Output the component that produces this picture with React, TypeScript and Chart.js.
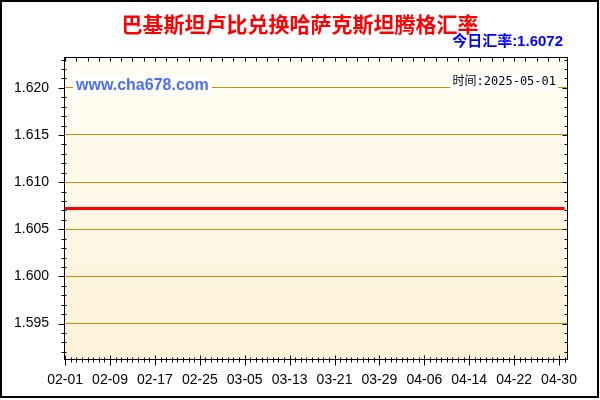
import { useEffect, useRef } from 'react'
import { Chart, registerables } from 'chart.js'

Chart.register(...registerables)

// daily quotes, 2025-02-01 .. 2025-05-01
const dates = [
  '02-01', '02-02', '02-03', '02-04', '02-05', '02-06', '02-07', '02-08', '02-09', '02-10',
  '02-11', '02-12', '02-13', '02-14', '02-15', '02-16', '02-17', '02-18', '02-19', '02-20',
  '02-21', '02-22', '02-23', '02-24', '02-25', '02-26', '02-27', '02-28', '03-01', '03-02',
  '03-03', '03-04', '03-05', '03-06', '03-07', '03-08', '03-09', '03-10', '03-11', '03-12',
  '03-13', '03-14', '03-15', '03-16', '03-17', '03-18', '03-19', '03-20', '03-21', '03-22',
  '03-23', '03-24', '03-25', '03-26', '03-27', '03-28', '03-29', '03-30', '03-31', '04-01',
  '04-02', '04-03', '04-04', '04-05', '04-06', '04-07', '04-08', '04-09', '04-10', '04-11',
  '04-12', '04-13', '04-14', '04-15', '04-16', '04-17', '04-18', '04-19', '04-20', '04-21',
  '04-22', '04-23', '04-24', '04-25', '04-26', '04-27', '04-28', '04-29', '04-30', '05-01',
]

const rates = [
  1.6072, 1.6072, 1.6072, 1.6072, 1.6072, 1.6072, 1.6072, 1.6072, 1.6072, 1.6072,
  1.6072, 1.6072, 1.6072, 1.6072, 1.6072, 1.6072, 1.6072, 1.6072, 1.6072, 1.6072,
  1.6072, 1.6072, 1.6072, 1.6072, 1.6072, 1.6072, 1.6072, 1.6072, 1.6072, 1.6072,
  1.6072, 1.6072, 1.6072, 1.6072, 1.6072, 1.6072, 1.6072, 1.6072, 1.6072, 1.6072,
  1.6072, 1.6072, 1.6072, 1.6072, 1.6072, 1.6072, 1.6072, 1.6072, 1.6072, 1.6072,
  1.6072, 1.6072, 1.6072, 1.6072, 1.6072, 1.6072, 1.6072, 1.6072, 1.6072, 1.6072,
  1.6072, 1.6072, 1.6072, 1.6072, 1.6072, 1.6072, 1.6072, 1.6072, 1.6072, 1.6072,
  1.6072, 1.6072, 1.6072, 1.6072, 1.6072, 1.6072, 1.6072, 1.6072, 1.6072, 1.6072,
  1.6072, 1.6072, 1.6072, 1.6072, 1.6072, 1.6072, 1.6072, 1.6072, 1.6072, 1.6072,
]

const yTickValues = [1.595, 1.6, 1.605, 1.61, 1.615, 1.62]
const xTickIndexes = [0, 8, 16, 24, 32, 40, 48, 56, 64, 72, 80, 88]

const yMin = 1.591128
const yMax = 1.623272

const titleText = '巴基斯坦卢比兑换哈萨克斯坦腾格汇率'
const todayText = '今日汇率:1.6072'
const siteText = 'www.cha678.com'
const timeText = '时间:2025-05-01'

const gridColor = '#C4920F'

function line(ctx: CanvasRenderingContext2D, x1: number, y1: number, x2: number, y2: number) {
  ctx.beginPath()
  ctx.moveTo(x1, y1)
  ctx.lineTo(x2, y2)
  ctx.stroke()
}

const framePlugin = {
  id: 'frame',
  beforeDraw(chart: Chart) {
    const { ctx, chartArea: a } = chart
    ctx.save()
    ctx.fillStyle = '#ffffff'
    ctx.fillRect(0, 0, chart.width, chart.height)
    const g = ctx.createLinearGradient(0, a.top, 0, a.bottom)
    g.addColorStop(0, '#FFFDF3')
    g.addColorStop(1, '#FDF1D9')
    ctx.fillStyle = g
    ctx.fillRect(a.left, a.top, a.right - a.left, a.bottom - a.top)
    ctx.restore()
  },
  afterDatasetsDraw(chart: Chart) {
    const { ctx } = chart
    ctx.save()
    ctx.textBaseline = 'middle'

    ctx.font = "bold 16px 'Liberation Sans', Arial, sans-serif"
    const sw = ctx.measureText(siteText).width
    ctx.fillStyle = '#ffffff'
    ctx.fillRect(73, 76, sw + 6, 19)
    ctx.fillStyle = '#4C6EF2'
    ctx.fillText(siteText, 76, 85.5)

    ctx.font = "12px 'DejaVu Sans Mono', 'Noto Sans CJK SC', monospace"
    const tw = ctx.measureText(timeText).width
    ctx.fillStyle = '#ffffff'
    ctx.fillRect(556 - tw - 2, 74, tw + 4, 16)
    ctx.fillStyle = '#000000'
    ctx.textAlign = 'right'
    ctx.fillText(timeText, 556, 82)
    ctx.restore()
  },
  afterDraw(chart: Chart) {
    const { ctx, chartArea: a } = chart
    const xs = chart.scales.x
    const ys = chart.scales.y
    const L = Math.round(a.left) + 0.5
    const R = Math.round(a.right) - 0.5
    const T = Math.round(a.top) + 0.5
    const B = Math.round(a.bottom) - 0.5

    ctx.save()
    ctx.strokeStyle = '#000000'
    ctx.lineWidth = 1

    // plot frame
    ctx.strokeRect(L, T, R - L, B - T)

    // x ticks: every day, taller at labels
    dates.forEach((_, i) => {
      const px = Math.round(xs.getPixelForValue(i)) + 0.5
      if (px > R) return
      if (i % 8 === 0) line(ctx, px, B - 4, px, B + 6)
      else line(ctx, px, B - 2, px, B + 3)
      if (i % 2 === 0) line(ctx, px, T, px, T + 4)
    })

    // y ticks: minor every 0.001, major at labels
    for (let k = 1592; k <= 1623; k++) {
      const v = k / 1000
      const py = Math.round(ys.getPixelForValue(v)) + 0.5
      if (k % 5 === 0) {
        line(ctx, L - 6, py, L, py)
        line(ctx, R - 5, py, R, py)
      } else {
        line(ctx, L - 3, py, L + 2, py)
        line(ctx, R - 3, py, R, py)
      }
    }

    // outer border
    ctx.lineWidth = 2
    ctx.strokeRect(1, 1, 597, 396)

    // titles
    ctx.textBaseline = 'middle'
    ctx.textAlign = 'center'
    ctx.fillStyle = '#FF0000'
    ctx.font = "bold 21px 'Noto Sans CJK SC', sans-serif"
    ctx.fillText(titleText, 300, 24)

    ctx.textAlign = 'right'
    ctx.fillStyle = '#0000FF'
    ctx.font = "bold 15px 'Liberation Sans', 'Noto Sans CJK SC', sans-serif"
    ctx.fillText(todayText, 563, 42)
    ctx.restore()
  },
}

function RateChart() {
  const canvasRef = useRef<HTMLCanvasElement | null>(null)

  useEffect(() => {
    if (!canvasRef.current) return undefined

    const chart = new Chart(canvasRef.current, {
      type: 'line',
      data: {
        datasets: [
          {
            label: 'rate',
            data: rates.map((v, i) => ({ x: i, y: v })),
            borderColor: '#FF0000',
            borderWidth: 3,
            pointRadius: 0,
            tension: 0,
            fill: false,
          },
        ],
      },
      options: {
        responsive: false,
        animation: false,
        layout: { padding: { top: 57, right: 32, left: 0, bottom: 0 } },
        plugins: {
          legend: { display: false },
          title: { display: false },
          tooltip: { enabled: false },
        },
        scales: {
          x: {
            type: 'linear',
            min: -0.2,
            max: 89.6,
            afterFit: (scale) => {
              scale.height = 40
            },
            afterBuildTicks: (scale) => {
              scale.ticks = xTickIndexes.map((v) => ({ value: v }))
            },
            grid: { display: false, drawTicks: false },
            border: { display: false },
            ticks: {
              autoSkip: false,
              maxRotation: 0,
              padding: 12,
              color: '#000000',
              font: { family: "'Liberation Sans', Arial, sans-serif", size: 14 },
              callback: (value) => dates[Number(value)] ?? '',
            },
          },
          y: {
            type: 'linear',
            min: yMin,
            max: yMax,
            afterFit: (scale) => {
              scale.width = 64
            },
            afterBuildTicks: (scale) => {
              scale.ticks = yTickValues.map((v) => ({ value: v }))
            },
            grid: { color: gridColor, lineWidth: 1, drawTicks: false },
            border: { display: false },
            ticks: {
              padding: 15,
              color: '#000000',
              font: { family: "'Liberation Sans', Arial, sans-serif", size: 14 },
              callback: (value) => Number(value).toFixed(3),
            },
          },
        },
      },
      plugins: [framePlugin],
    })

    return () => {
      chart.destroy()
    }
  }, [])

  return <canvas ref={canvasRef} width={600} height={400} style={{ display: 'block' }} />
}

export default function App() {
  return (
    <div style={{ position: 'absolute', left: 0, top: 0, width: 600, height: 400, background: '#ffffff' }}>
      <RateChart />
    </div>
  )
}
